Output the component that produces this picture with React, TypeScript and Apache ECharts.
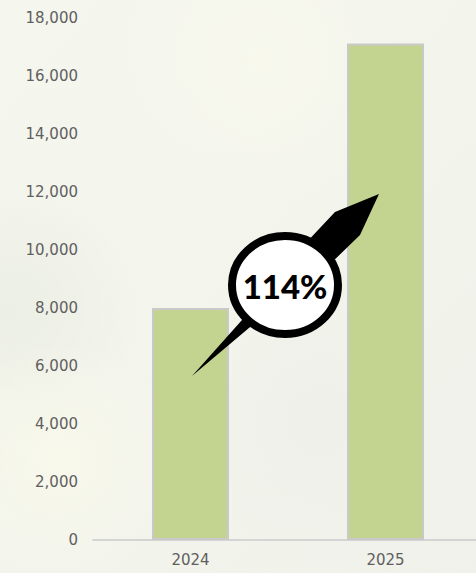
import React, { useEffect, useRef } from "react";
import * as echarts from "echarts";

const categories = ["2024", "2025"];
const values = [8000, 17120];
const yTicks = { min: 0, max: 18000, interval: 2000 };

export default function App() {
  const ref = useRef<HTMLDivElement>(null);
  useEffect(() => {
    document.body.style.margin = "0";
    const chart = echarts.init(ref.current!, null, { renderer: "svg" });
    const growth = Math.round((values[1] / values[0] - 1) * 100);
    const axisFont = "DejaVu Sans";
    const soft = (cx: number, cy: number, r: number, rgb: string, a: number) => ({
      type: "circle",
      z: -10,
      silent: true,
      shape: { cx, cy, r },
      style: {
        fill: {
          type: "radial", x: 0.5, y: 0.5, r: 0.5,
          colorStops: [
            { offset: 0, color: `rgba(${rgb},${a})` },
            { offset: 1, color: `rgba(${rgb},0)` },
          ],
        },
      },
    });
    chart.setOption({
      animation: false,
      backgroundColor: {
        type: "linear",
        x: 0, y: 0, x2: 1, y2: 1,
        colorStops: [
          { offset: 0, color: "#f5f6ee" },
          { offset: 0.5, color: "#f3f4ec" },
          { offset: 1, color: "#f0f1ea" },
        ],
      },
      graphic: [
        soft(10, 310, 130, "232,236,224", 0.7),
        soft(60, 460, 120, "250,250,234", 0.7),
        soft(260, 60, 150, "250,250,236", 0.6),
        soft(320, 420, 140, "236,238,232", 0.7),
        {
          type: "polygon",
          z: 100,
          shape: {
            points: [
              [192, 376],
              [242, 320],
              [303, 246],
              [335, 212],
              [379, 194],
              [360, 235],
              [325, 269],
              [249.5, 327.6],
            ],
          },
          style: { fill: "#000000" },
        },
        {
          type: "ellipse",
          z: 101,
          shape: { cx: 285, cy: 285, rx: 53, ry: 49 },
          style: { fill: "#ffffff", stroke: "#000000", lineWidth: 8 },
        },
        {
          type: "text",
          z: 102,
          x: 285,
          y: 286,
          style: {
            text: growth + "%",
            fill: "#000000",
            font: "900 33px Lato",
            align: "center",
            verticalAlign: "middle",
          },
        },
      ],
      grid: {
        left: 93,
        top: 18,
        width: 390,
        height: 522,
        containLabel: false,
        outerBoundsMode: "none",
      },
      xAxis: {
        type: "category",
        data: categories,
        axisLine: { show: true, lineStyle: { color: "#d4d4d4", width: 2 } },
        axisTick: { show: false },
        axisLabel: {
          color: "#5f5f5f",
          fontFamily: axisFont,
          fontSize: 15,
          margin: 12,
        },
        splitLine: { show: false },
      },
      yAxis: {
        type: "value",
        min: yTicks.min,
        max: yTicks.max,
        interval: yTicks.interval,
        axisLine: { show: false },
        axisTick: { show: false },
        splitLine: { show: false },
        axisLabel: {
          color: "#5f5f5f",
          fontFamily: axisFont,
          fontSize: 15,
          margin: 15,
        },
      },
      series: [
        {
          type: "bar",
          z: 2,
          data: values,
          barWidth: 77,
          itemStyle: {
            color: "#c2d48f",
            borderColor: "#c9c9c9",
            borderWidth: 2,
          },
        },
      ],
    });
    return () => chart.dispose();
  }, []);
  return (
    <div
      ref={ref}
      style={{ position: "absolute", left: 0, top: 0, width: 476, height: 573 }}
    />
  );
}
